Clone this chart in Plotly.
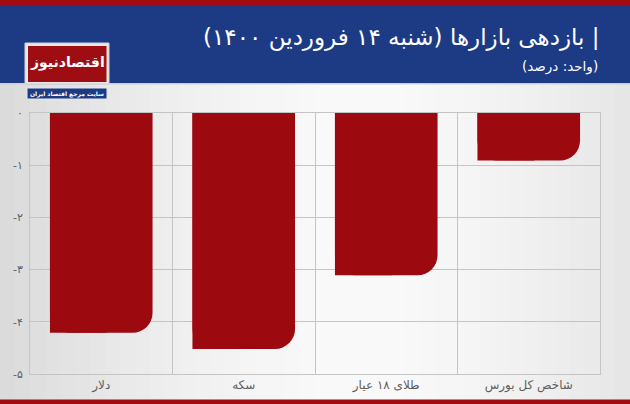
import plotly.graph_objects as go

categories = ["دلار", "سکه", "طلای ۱۸ عیار", "شاخص کل بورس"]
values = [-4.21, -4.52, -3.11, -0.91]
tick_vals = [0, -1, -2, -3, -4, -5]
tick_text = ["۰", "-۱", "-۲", "-۳", "-۴", "-۵"]

title_text = "\u200f| بازدهی بازارها (شنبه ۱۴ فروردین ۱۴۰۰)\u200f"
subtitle_text = "\u200f(واحد: درصد)\u200f"
logo_text = "اقتصادنیوز"
logo_sub = "سایت مرجع اقتصاد ایران"

W, H = 630, 404
L, R, T, B = 30, 600, 113, 374
FA = "DejaVu Sans"
BAR = "#9c0a0f"
NAVY = "#1d3a84"
RED = "#a20c11"


def px(X):
    return (X - L) / (R - L)


def py(Y):
    return (B - Y) / (B - T)


shapes = []
# background gradient strips
n = 42
for i in range(n):
    x0 = i * W / n
    x1 = (i + 1) * W / n
    c = (x0 + x1) / 2
    d = abs(c - 360) / 360
    v = int(250 - 32 * d ** 1.6)
    col = f"rgb({v},{v},{v})"
    shapes.append(dict(type="rect", xref="paper", yref="paper", x0=px(x0), x1=px(x1 + 0.5),
                       y0=py(H), y1=py(83), fillcolor=col, line_width=0, layer="below"))
# header
shapes.append(dict(type="rect", xref="paper", yref="paper", x0=px(0), x1=px(W), y0=py(83), y1=py(0),
                   fillcolor=NAVY, line_width=0, layer="below"))
shapes.append(dict(type="rect", xref="paper", yref="paper", x0=px(0), x1=px(W), y0=py(6), y1=py(0),
                   fillcolor=RED, line_width=0, layer="below"))
shapes.append(dict(type="rect", xref="paper", yref="paper", x0=px(0), x1=px(W), y0=py(84.5), y1=py(83),
                   fillcolor="#c9d0e0", line_width=0, layer="below"))
# bottom stripe
shapes.append(dict(type="rect", xref="paper", yref="paper", x0=px(0), x1=px(W), y0=py(H), y1=py(399.5),
                   fillcolor=RED, line_width=0, layer="above"))
# logo box
shapes.append(dict(type="rect", xref="paper", yref="paper", x0=px(25), x1=px(109), y0=py(84), y1=py(43),
                   fillcolor="#e8e8e8", line=dict(color="#d0d0d0", width=1), layer="above"))
shapes.append(dict(type="rect", xref="paper", yref="paper", x0=px(28), x1=px(106.5), y0=py(82), y1=py(46),
                   fillcolor="#9e0d12", line_width=0, layer="above"))
shapes.append(dict(type="rect", xref="paper", yref="paper", x0=px(27), x1=px(107), y0=py(99), y1=py(88),
                   fillcolor=NAVY, line=dict(color="#e6e6e6", width=1), layer="above"))

annotations = [
    dict(text=title_text, x=px(601), y=py(37), xref="paper", yref="paper", xanchor="right",
         yanchor="middle", showarrow=False, font=dict(family=FA, size=23, color="white")),
    dict(text=subtitle_text, x=px(600), y=py(66), xref="paper", yref="paper", xanchor="right", yanchor="middle",
         showarrow=False, font=dict(family=FA, size=13.5, color="white")),
    dict(text="<b>" + logo_text + "</b>", x=px(67), y=py(63), xref="paper", yref="paper", xanchor="center",
         yanchor="middle", showarrow=False, font=dict(family=FA, size=14, color="white")),
    dict(text="<b>" + logo_sub + "</b>", x=px(67), y=py(93.5), xref="paper", yref="paper", xanchor="center",
         yanchor="middle", showarrow=False, font=dict(family=FA, size=6, color="white")),
]

fig = go.Figure()
fig.add_trace(go.Bar(x=categories, y=values, width=0.72, offset=-0.36, marker=dict(color=BAR, line_width=0,
                     cornerradius=20), hoverinfo="skip"))
fig.add_trace(go.Bar(x=categories, y=values, width=0.4, offset=-0.36, marker=dict(color=BAR, line_width=0),
                     hoverinfo="skip"))

fig.update_layout(
    width=W, height=H,
    margin=dict(l=L, r=W - R, t=T, b=H - B, pad=0),
    paper_bgcolor="#e6e6e6", plot_bgcolor="rgba(0,0,0,0)",
    barmode="overlay", showlegend=False,
    shapes=shapes, annotations=annotations,
    xaxis=dict(type="category", tickson="boundaries", showgrid=True, gridcolor="#c4c4c4", gridwidth=1,
               showline=True, mirror=True, linecolor="#c4c4c4", ticks="", range=[-0.5, 3.5],
               tickfont=dict(family=FA, size=12, color="#5e5e5e"), fixedrange=True),
    yaxis=dict(range=[-5, 0], tickvals=tick_vals, ticktext=tick_text, showgrid=True, gridcolor="#c4c4c4",
               gridwidth=1, zeroline=False, showline=True, mirror=True, linecolor="#c4c4c4", ticks="",
               ticklabelstandoff=4, tickfont=dict(family=FA, size=11, color="#5e5e5e"), fixedrange=True),
)

fig.write_html("out.html", config={"displayModeBar": False},
               post_script="document.body.style.margin='0';document.body.style.overflow='hidden';")
